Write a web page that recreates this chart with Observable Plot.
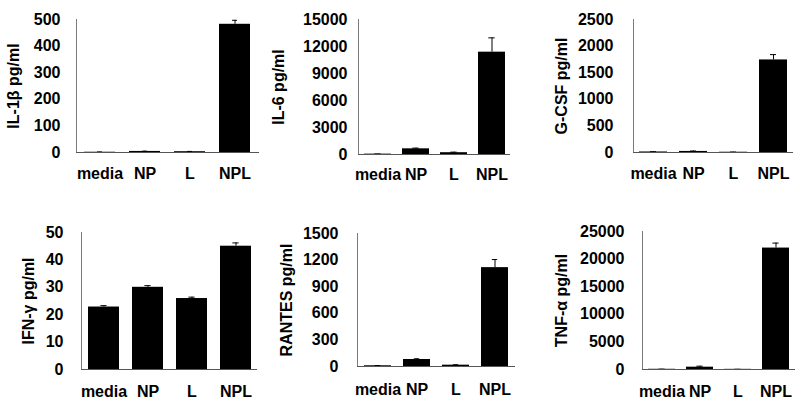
<!DOCTYPE html>
<html><head><meta charset="utf-8">
<script src="https://cdn.jsdelivr.net/npm/d3@7"></script>
<script src="https://cdn.jsdelivr.net/npm/@observablehq/plot@0.6"></script>
<style>
body{margin:0;background:#fff;}
#chart{position:relative;width:800px;height:405px;font-family:"Liberation Sans",Arial,sans-serif;}
.panel{position:absolute;}
</style></head><body><div id="chart"></div>
<script>
const groups = ["media", "NP", "L", "NPL"];

const il1bLabel = "IL-1β pg/ml";
const il1bMean = [1, 4, 3, 482];
const il1bErr = [1, 1, 1, 15];
const il1bTicks = [0, 100, 200, 300, 400, 500];

const il6Label = "IL-6 pg/ml";
const il6Mean = [40, 630, 200, 11370];
const il6Err = [20, 80, 60, 1590];
const il6Ticks = [0, 3000, 6000, 9000, 12000, 15000];

const gcsfLabel = "G-CSF pg/ml";
const gcsfMean = [10, 20, 5, 1740];
const gcsfErr = [5, 8, 3, 100];
const gcsfTicks = [0, 500, 1000, 1500, 2000, 2500];

const ifngLabel = "IFN-γ pg/ml";
const ifngMean = [22.8, 30.0, 25.9, 45.0];
const ifngErr = [0.5, 0.6, 0.5, 1.2];
const ifngTicks = [0, 10, 20, 30, 40, 50];

const rantesLabel = "RANTES pg/ml";
const rantesMean = [8, 79, 15, 1115];
const rantesErr = [3, 8, 5, 91];
const rantesTicks = [0, 300, 600, 900, 1200, 1500];

const tnfaLabel = "TNF-α pg/ml";
const tnfaMean = [40, 420, 30, 22000];
const tnfaErr = [20, 180, 10, 900];
const tnfaTicks = [0, 5000, 10000, 15000, 20000, 25000];

const panels = [
  {label: il1bLabel, mean: il1bMean, err: il1bErr, ticks: il1bTicks,
   layout: {left: 0, top: 0, w: 265, h: 200, ml: 76, mr: 6, mt: 19, mb: 48, tp: 16, xp: 15, lo: 69}},
  {label: il6Label, mean: il6Mean, err: il6Err, ticks: il6Ticks,
   layout: {left: 265, top: 0, w: 270, h: 200, ml: 93, mr: 25, mt: 19, mb: 46, tp: 11, xp: 14, lo: 86}},
  {label: gcsfLabel, mean: gcsfMean, err: gcsfErr, ticks: gcsfTicks,
   layout: {left: 530, top: 0, w: 270, h: 200, ml: 103, mr: 7, mt: 19, mb: 48, tp: 20, xp: 15, lo: 78}},
  {label: ifngLabel, mean: ifngMean, err: ifngErr, ticks: ifngTicks,
   layout: {left: 0, top: 205, w: 265, h: 200, ml: 81, mr: 8, mt: 27, mb: 36, tp: 18, xp: 16, lo: 59}},
  {label: rantesLabel, mean: rantesMean, err: rantesErr, ticks: rantesTicks,
   layout: {left: 265, top: 205, w: 270, h: 200, ml: 92, mr: 20, mt: 28, mb: 39, tp: 19, xp: 17, lo: 77}},
  {label: tnfaLabel, mean: tnfaMean, err: tnfaErr, ticks: tnfaTicks,
   layout: {left: 530, top: 205, w: 270, h: 200, ml: 112, mr: 5, mt: 26, mb: 36, tp: 18, xp: 16, lo: 87}}
];

const font = {fontWeight: "bold"};
const chart = document.getElementById("chart");

for (const p of panels) {
  const L = p.layout;
  const data = groups.map((g, i) => ({group: g, mean: p.mean[i], top: p.mean[i] + p.err[i]}));
  const step = (L.w - L.ml - L.mr) / groups.length;
  const capInset = (step * 0.7 - 6) / 2;
  const svg = Plot.plot({
    width: L.w, height: L.h,
    marginLeft: L.ml, marginRight: L.mr, marginTop: L.mt, marginBottom: L.mb,
    style: {fontFamily: "'Liberation Sans', Arial, sans-serif", background: "white", overflow: "visible"},
    x: {domain: groups, paddingInner: 0.3, paddingOuter: 0.15},
    y: {domain: [p.ticks[0], p.ticks[p.ticks.length - 1]]},
    marks: [
      Plot.barY(data, {x: "group", y: "mean", fill: "black"}),
      Plot.ruleX(data, {x: "group", y1: "mean", y2: "top", stroke: "black", strokeWidth: 1}),
      Plot.tickY(data, {x: "group", y: "top", stroke: "black", strokeWidth: 1, insetLeft: capInset, insetRight: capInset}),
      Plot.frame({anchor: "left", stroke: "#7a7a7a"}),
      Plot.ruleY([0], {stroke: "#555"}),
      Plot.axisY({ticks: p.ticks, tickFormat: d3.format("d"), tickSize: 0, tickPadding: L.tp,
                  fontSize: 16, ...font, label: null, fill: "black"}),
      Plot.axisY({ticks: [], label: p.label, labelAnchor: "center", labelArrow: "none",
                  labelOffset: L.lo, fontSize: 16, ...font, fill: "black"}),
      Plot.axisX({tickSize: 0, tickPadding: L.xp, fontSize: 16, ...font, label: null, fill: "black"})
    ]
  });
  const div = document.createElement("div");
  div.className = "panel";
  div.style.left = L.left + "px";
  div.style.top = L.top + "px";
  div.appendChild(svg);
  chart.appendChild(div);
}
</script></body></html>
